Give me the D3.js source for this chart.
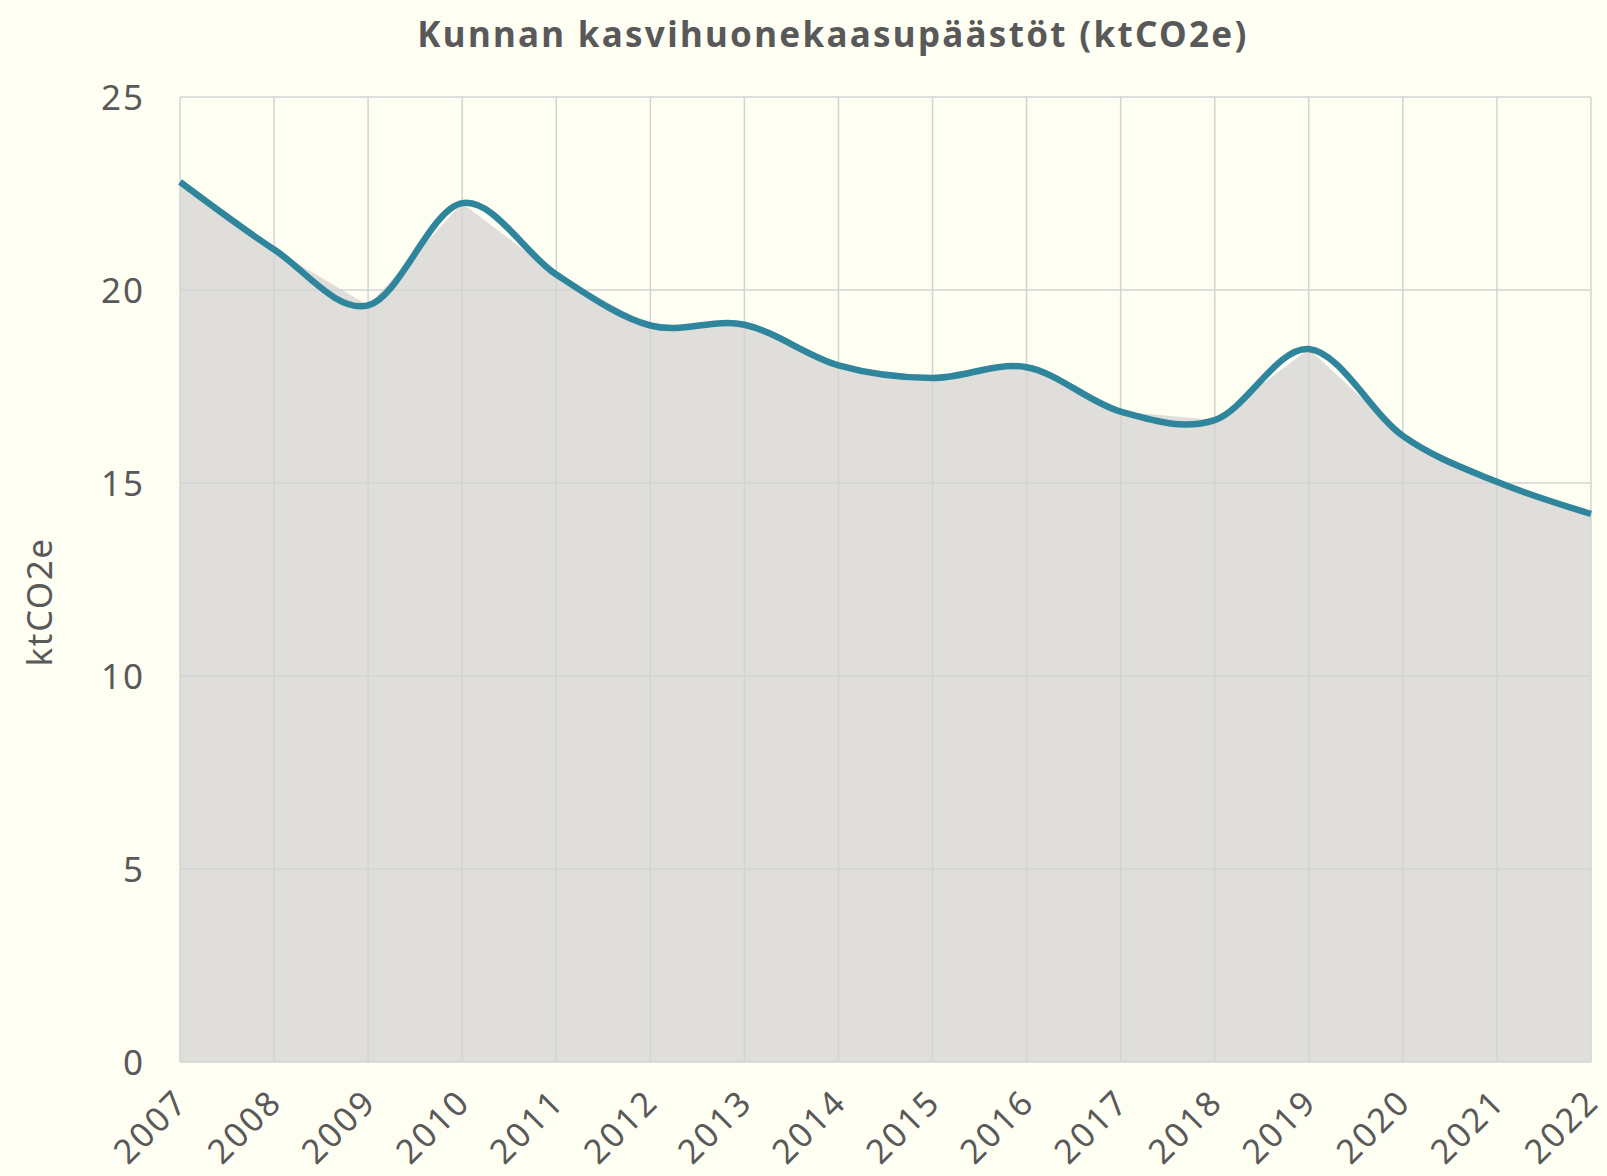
<!DOCTYPE html>
<html>
<head>
<meta charset="utf-8">
<script src="https://cdn.jsdelivr.net/npm/d3@7"></script>
<style>
  html, body { margin: 0; padding: 0; background: #fffef3; }
  text { font-family: "Noto Sans", sans-serif; fill: #595959; }
</style>
</head>
<body>
<svg id="chart" width="1607" height="1176"></svg>
<script>
// data
years = [2007, 2008, 2009, 2010, 2011, 2012, 2013, 2014, 2015, 2016, 2017, 2018, 2019, 2020, 2021, 2022]
emissions = [22.8, 21.05, 19.6, 22.25, 20.4, 19.08, 19.1, 18.05, 17.72, 18.0, 16.85, 16.63, 18.47, 16.22, 15.03, 14.2]
yTicks = [0, 5, 10, 15, 20, 25]
titleText = "Kunnan kasvihuonekaasupäästöt (ktCO2e)"
yLabel = "ktCO2e"

data = years.map(function(y, i){ return {year: y, value: emissions[i]} })

svg = d3.select("#chart")
plotLeft = 180; plotRight = 1591; plotTop = 97; plotBottom = 1062

x = d3.scaleLinear().domain([2007, 2022]).range([plotLeft, plotRight])
y = d3.scaleLinear().domain([0, 25]).range([plotBottom, plotTop])

svg.append("rect").attr("width", 1607).attr("height", 1176).attr("fill", "#fffef3")

// area (straight segments) underneath
svg.append("path").datum(data)
  .attr("d", d3.area().x(function(d){return x(d.year)}).y0(y(0)).y1(function(d){return y(d.value)}))
  .attr("fill", "#dfdedb")

// grid
grid = svg.append("g")
grid.selectAll(".vg").data(years).join("line").attr("class","vg")
  .attr("x1", function(d){return x(d)}).attr("x2", function(d){return x(d)})
  .attr("y1", plotTop).attr("y2", plotBottom)
  .attr("stroke", "#d3d3d3").attr("stroke-width", 1.5)
grid.selectAll(".hg").data(yTicks).join("line").attr("class","hg")
  .attr("x1", plotLeft).attr("x2", plotRight)
  .attr("y1", function(d){return y(d)}).attr("y2", function(d){return y(d)})
  .attr("stroke", "#d3d3d3").attr("stroke-width", 1.5)

// smoothed line
svg.append("path").datum(data)
  .attr("d", d3.line().x(function(d){return x(d.year)}).y(function(d){return y(d.value)}).curve(d3.curveCardinal.tension(0)))
  .attr("fill", "none").attr("stroke", "#2e859c").attr("stroke-width", 6.5)
  .attr("stroke-linejoin", "round")

// y tick labels
svg.selectAll(".yt").data(yTicks).join("text").attr("class","yt")
  .attr("x", 145).attr("y", function(d){return y(d)})
  .attr("dy", "0.36em").attr("text-anchor", "end")
  .style("font-size", "35px").style("letter-spacing", "2px")
  .text(function(d){return d})

// x tick labels, rotated
svg.selectAll(".xt").data(years).join("text").attr("class","xt")
  .attr("transform", function(d){return "translate(" + (x(d) - 8) + "," + (plotBottom + 24) + ") rotate(-45)"})
  .attr("text-anchor", "end").attr("dy", "0.75em")
  .style("font-size", "34px").style("letter-spacing", "2.5px")
  .text(function(d){return d})

// titles
svg.append("text").attr("x", 833).attr("y", 47).attr("text-anchor", "middle")
  .style("font-size", "35px").style("font-weight", "bold").style("letter-spacing", "2.3px")
  .text(titleText)

svg.append("text").attr("transform", "translate(52,602) rotate(-90)")
  .attr("text-anchor", "middle")
  .style("font-size", "35px").style("letter-spacing", "1.5px")
  .text(yLabel)
</script>
</body>
</html>
